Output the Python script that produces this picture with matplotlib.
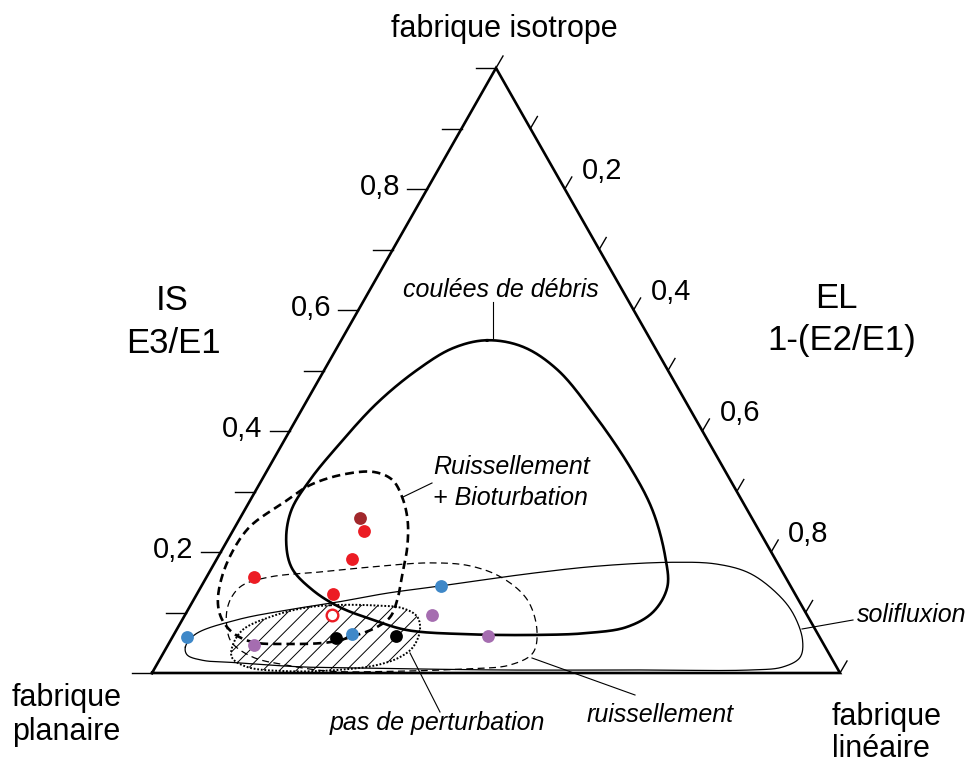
import numpy as np
import matplotlib
matplotlib.use("Agg")
import matplotlib.pyplot as plt
from matplotlib.path import Path
from matplotlib.patches import PathPatch
from matplotlib.transforms import offset_copy

plt.rcParams['font.family'] = ['Liberation Sans', 'DejaVu Sans']
plt.rcParams['lines.scale_dashes'] = False
plt.rcParams['hatch.linewidth'] = 0.7

# ---------------- data (IS = E3/E1, EL = 1-(E2/E1)) ----------------
tick_values = [0.0, 0.1, 0.2, 0.3, 0.4, 0.5, 0.6, 0.7, 0.8, 0.9, 1.0]
label_values = [0.2, 0.4, 0.6, 0.8]
label_texts = ["0,2", "0,4", "0,6", "0,8"]

blue_IS = [0.060, 0.064, 0.144]
blue_EL = [0.021, 0.259, 0.348]
red_IS = [0.235, 0.188, 0.159, 0.131]
red_EL = [0.191, 0.197, 0.069, 0.198]
brown_IS = [0.256]
brown_EL = [0.174]
open_IS = [0.096]
open_EL = [0.214]
purple_IS = [0.046, 0.096, 0.061]
purple_EL = [0.125, 0.359, 0.458]
black_IS = [0.058, 0.061]
black_EL = [0.238, 0.324]

# envelopes (outline vertices)
coulees_IS = [0.550, 0.539, 0.501, 0.430, 0.340, 0.269, 0.192, 0.142, 0.101, 0.076,
              0.066, 0.063, 0.064, 0.071, 0.088, 0.109, 0.137, 0.174, 0.220, 0.269,
              0.319, 0.374, 0.446, 0.501, 0.537]
coulees_EL = [0.212, 0.270, 0.339, 0.426, 0.525, 0.593, 0.650, 0.678, 0.678, 0.652,
              0.599, 0.533, 0.430, 0.335, 0.277, 0.218, 0.165, 0.116, 0.085, 0.068,
              0.070, 0.082, 0.104, 0.135, 0.169]

bioturb_IS = [0.329, 0.332, 0.319, 0.291, 0.253, 0.208, 0.170, 0.121, 0.093, 0.076,
              0.063, 0.051, 0.048, 0.051, 0.066, 0.088, 0.112, 0.145, 0.192, 0.241,
              0.281, 0.311]
bioturb_EL = [0.117, 0.158, 0.190, 0.218, 0.245, 0.267, 0.280, 0.296, 0.300, 0.289,
              0.267, 0.233, 0.172, 0.121, 0.085, 0.058, 0.040, 0.026, 0.017, 0.021,
              0.050, 0.075]

ruiss_IS = [0.126, 0.145, 0.159, 0.167, 0.175, 0.182, 0.177, 0.157, 0.121, 0.071,
            0.033, 0.013, 0.007, 0.003, 0.003, 0.013, 0.026, 0.051, 0.079, 0.104]
ruiss_EL = [0.053, 0.059, 0.093, 0.161, 0.229, 0.313, 0.374, 0.431, 0.485, 0.524,
            0.537, 0.513, 0.455, 0.358, 0.257, 0.189, 0.134, 0.090, 0.069, 0.057]

solif_IS = [0.043, 0.064, 0.088, 0.104, 0.117, 0.132, 0.144, 0.165, 0.177, 0.183,
            0.180, 0.165, 0.132, 0.099, 0.055, 0.026, 0.010, 0.005, 0.005, 0.005,
            0.008, 0.010, 0.017, 0.021, 0.030]
solif_EL = [0.027, 0.031, 0.080, 0.144, 0.210, 0.276, 0.348, 0.471, 0.563, 0.665,
            0.731, 0.786, 0.842, 0.882, 0.918, 0.929, 0.912, 0.867, 0.707, 0.503,
            0.313, 0.214, 0.115, 0.063, 0.036]

pas_IS = [0.112, 0.112, 0.107, 0.093, 0.071, 0.043, 0.026, 0.013, 0.005, 0.003,
          0.010, 0.025, 0.043, 0.071, 0.093, 0.107]
pas_EL = [0.203, 0.261, 0.311, 0.339, 0.354, 0.358, 0.347, 0.320, 0.267, 0.195,
          0.133, 0.104, 0.095, 0.096, 0.126, 0.165]

# ---------------- layout ----------------
W, H = 969, 765
X0PX, Y0PX, BASEPX, HEIGHTPX = 152, 673, 688, 605

fig = plt.figure(figsize=(W / 100, H / 100), dpi=100)
ax = fig.add_axes([0, 0, 1, 1])
ax.set_xlim(-X0PX / BASEPX, (W - X0PX) / BASEPX)
ax.set_ylim((Y0PX - H) / HEIGHTPX, Y0PX / HEIGHTPX)
ax.axis('off')


def tern(IS, EL):
    IS = np.asarray(IS, float)
    EL = np.asarray(EL, float)
    return EL + 0.5 * IS, IS


def F(px, py):
    return px / W, 1 - py / H


def smooth_closed(IS, EL, n=24):
    x, y = tern(IS, EL)
    P = np.column_stack([x * BASEPX, y * HEIGHTPX])
    m = len(P)
    out = []
    for i in range(m):
        p0, p1, p2, p3 = P[(i - 1) % m], P[i], P[(i + 1) % m], P[(i + 2) % m]
        t0 = 0.0
        t1 = t0 + np.linalg.norm(p1 - p0) ** 0.5
        t2 = t1 + np.linalg.norm(p2 - p1) ** 0.5
        t3 = t2 + np.linalg.norm(p3 - p2) ** 0.5
        t = np.linspace(t1, t2, n, endpoint=False)[:, None]
        a1 = (t1 - t) / (t1 - t0) * p0 + (t - t0) / (t1 - t0) * p1
        a2 = (t2 - t) / (t2 - t1) * p1 + (t - t1) / (t2 - t1) * p2
        a3 = (t3 - t) / (t3 - t2) * p2 + (t - t2) / (t3 - t2) * p3
        b1 = (t2 - t) / (t2 - t0) * a1 + (t - t0) / (t2 - t0) * a2
        b2 = (t3 - t) / (t3 - t1) * a2 + (t - t1) / (t3 - t1) * a3
        c = (t2 - t) / (t2 - t1) * b1 + (t - t1) / (t2 - t1) * b2
        out.append(c)
    out.append(out[0][:1])
    out = np.vstack(out)
    return out[:, 0] / BASEPX, out[:, 1] / HEIGHTPX


# ---------------- triangle ----------------
tx, ty = tern([0, 0, 1, 0], [0, 1, 0, 0])
ax.plot(tx, ty, color='black', lw=1.9, zorder=4, solid_joinstyle='miter')

for v in tick_values:
    ex, ey = tern(v, 0)
    ax.plot([ex - 20 / BASEPX, ex], [ey, ey], color='black', lw=1.0, zorder=4)
    rx, ry = tern(1 - v, v)
    ax.plot([rx, rx + 7 / BASEPX], [ry, ry + 12 / HEIGHTPX], color='black', lw=1.0, zorder=4)

for v, lab in zip(label_values, label_texts):
    ex, ey = tern(v, 0)
    ax.text(ex, ey, lab, fontsize=21, ha='right', va='baseline',
            transform=offset_copy(ax.transData, fig, x=-27, y=-6, units='dots'))
    rx, ry = tern(1 - v, v)
    ax.text(rx, ry, lab, fontsize=21, ha='left', va='baseline',
            transform=offset_copy(ax.transData, fig, x=17, y=10, units='dots'))

# ---------------- envelopes ----------------
sx, sy = smooth_closed(coulees_IS, coulees_EL)
ax.plot(sx, sy, color='black', lw=1.9, zorder=3)

sx, sy = smooth_closed(bioturb_IS, bioturb_EL)
ax.plot(sx, sy, color='black', lw=1.9, zorder=3, linestyle=(0, (6, 3.6)))

sx, sy = smooth_closed(ruiss_IS, ruiss_EL)
ax.plot(sx, sy, color='black', lw=0.9, zorder=3, linestyle=(0, (5, 3.2)))

sx, sy = smooth_closed(solif_IS, solif_EL)
ax.plot(sx, sy, color='black', lw=0.9, zorder=3)

sx, sy = smooth_closed(pas_IS, pas_EL)
ax.add_patch(PathPatch(Path(np.column_stack([sx, sy])), facecolor='none',
                       edgecolor='black', lw=0, hatch='//', zorder=2))
ax.plot(sx, sy, color='black', lw=1.4, zorder=3, linestyle=(0, (1.3, 1.3)))

# ---------------- points ----------------
def pts(IS, EL, color):
    x, y = tern(IS, EL)
    ax.scatter(x, y, s=85, color=color, linewidths=0, zorder=6)

pts(blue_IS, blue_EL, '#3f88c8')
pts(red_IS, red_EL, '#ec1c24')
pts(brown_IS, brown_EL, '#a1282c')
pts(purple_IS, purple_EL, '#a56db0')
pts(black_IS, black_EL, '#000000')
ox, oy = tern(open_IS, open_EL)
ax.scatter(ox, oy, s=70, facecolors='white', edgecolors='#ec1c24', linewidths=1.7, zorder=6)

# ---------------- labels ----------------
def t(px, py, s, **kw):
    x, y = F(px, py)
    ax.text(x, y, s, transform=fig.transFigure, va='baseline', **kw)

def leader(p1, p2):
    x1, y1 = F(*p1)
    x2, y2 = F(*p2)
    ax.plot([x1, x2], [y1, y2], color='black', lw=0.8, transform=fig.transFigure, zorder=3)

t(504, 37, "fabrique isotrope", fontsize=22, ha='center')
t(12, 706, "fabrique", fontsize=22, ha='left')
t(12, 740, "planaire", fontsize=22, ha='left')
t(832, 725, "fabrique", fontsize=22, ha='left')
t(832, 757, "linéaire", fontsize=22, ha='left')
t(172, 310, "IS", fontsize=25, ha='center')
t(173, 353, "E3/E1", fontsize=25, ha='center')
t(836, 308, "EL", fontsize=25, ha='center')
t(842, 350, "1-(E2/E1)", fontsize=25, ha='center')

t(501, 297, "coulées de débris", fontsize=18, style='italic', ha='center')
t(433, 474, "Ruissellement", fontsize=18, style='italic', ha='left')
t(433, 505, "+ Bioturbation", fontsize=18, style='italic', ha='left')
t(857, 622, "solifluxion", fontsize=18, style='italic', ha='left')
t(330, 730, "pas de perturbation", fontsize=18, style='italic', ha='left')
t(587, 722, "ruissellement", fontsize=18, style='italic', ha='left')

leader((493, 302), (493, 338))
leader((403, 497), (432, 483))
leader((802, 629), (853, 620))
leader((410, 653), (440, 712))
leader((532, 658), (635, 695))

fig.savefig("out.png", dpi=100)
